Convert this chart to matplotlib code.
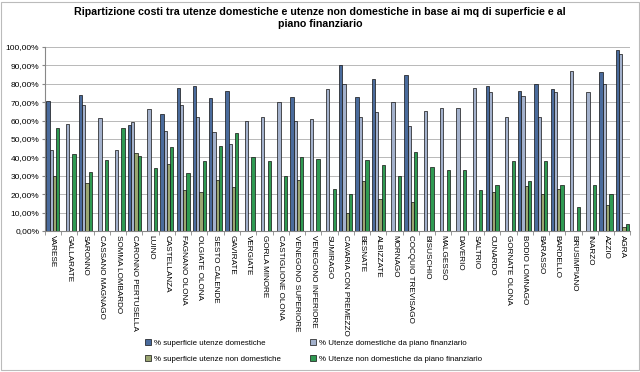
import numpy as np
import matplotlib
matplotlib.use("Agg")
import matplotlib.pyplot as plt
from matplotlib.ticker import FuncFormatter, FixedLocator

plt.rcParams['font.family'] = ['Liberation Sans', 'DejaVu Sans']

categories = ["VARESE", "GALLARATE", "SARONNO", "CASSANO MAGNAGO", "SOMMA LOMBARDO",
              "CARONNO PERTUSELLA", "LUINO", "CASTELLANZA", "FAGNANO OLONA", "OLGIATE OLONA",
              "SESTO CALENDE", "GAVIRATE", "VERGIATE", "GORLA MINORE", "CASTIGLIONE OLONA",
              "VENEGONO SUPERIORE", "VENEGONO INFERIORE", "SUMIRAGO", "CAVARIA CON PREMEZZO",
              "BESNATE", "ALBIZZATE", "MORNAGO", "COCQUIO TREVISAGO", "BISUSCHIO", "MALGESSO",
              "DAVERIO", "SALTRIO", "CUNARDO", "GORNATE OLONA", "BODIO LOMNAGO", "BARASSO",
              "BARDELLO", "BRUSIMPIANO", "INARZO", "AZZIO", "AGRA"]

sup_dom = [70.5, 0, 74, 0, 0, 57.5, 0, 63.5, 77.5, 79, 72.5, 76.2, 0, 0, 0, 72.6, 0, 0, 90,
           72.8, 82.8, 0, 84.6, 0, 0, 0, 0, 79, 0, 76, 80, 77, 0, 0, 86.2, 98.2]
pf_dom = [44, 58, 68.5, 61.5, 44, 59, 66, 54.5, 68.5, 62, 54, 47.2, 60, 62, 70, 60, 61, 77, 80,
          62, 64.4, 70, 57, 65.3, 67, 67, 77.5, 75.3, 62, 73.3, 62, 75.3, 87, 75.3, 80, 96.4]
sup_nondom = [30, 0, 26, 0, 0, 42.5, 0, 36.5, 22.5, 21, 27.5, 24, 0, 0, 0, 27.6, 0, 0, 10,
              27.4, 17.4, 0, 15.6, 0, 0, 0, 0, 21, 0, 24.3, 20, 23, 0, 0, 14, 2]
pf_nondom = [56, 42, 32, 38.5, 56, 41, 34, 45.5, 31.5, 38, 46, 53, 40, 38, 30, 40, 39, 23, 20,
             38.3, 35.7, 30, 43, 35, 33, 33, 22.3, 25, 38, 27, 38, 25, 13, 25, 20, 4]

labels = ["% superficie utenze domestiche", "% Utenze domestiche da piano finanziario",
          "% superficie utenze non domestiche", "% Utenze non domestiche da piano finanziario"]
colors = ["#4a6b9c", "#a3b1cc", "#9aa571", "#2f9a52"]

yticks = list(range(0, 101, 10))

fig = plt.figure(figsize=(6.4, 3.72), dpi=100)
fig.patch.set_facecolor("white")
ax = fig.add_axes([0.070, 0.379, 0.915, 0.495])

x = np.arange(len(categories))
w = 0.2
series = [sup_dom, pf_dom, sup_nondom, pf_nondom]
handles = []
for i, (vals, col, lab) in enumerate(zip(series, colors, labels)):
    v = np.array(vals, dtype=float)
    v[v == 0] = np.nan
    h = ax.bar(x + (i - 1.5) * w, v, width=w, color=col, edgecolor="#111111",
               linewidth=0.5, label=lab, zorder=3)
    handles.append(h)

ax.set_xlim(-0.5, len(categories) - 0.5)
ax.set_ylim(0, 100)
ax.set_yticks(yticks)
ax.yaxis.set_major_formatter(FuncFormatter(lambda v, p: f"{v:.2f}".replace(".", ",") + "%"))
ax.grid(axis="y", color="#b8b8b8", linewidth=0.7, zorder=0)
ax.set_axisbelow(True)
for s in ["top", "right"]:
    ax.spines[s].set_visible(False)
ax.spines["left"].set_color("#888888")
ax.spines["bottom"].set_color("#888888")
ax.tick_params(axis="y", labelsize=6, length=2, color="#888888", pad=2)
ax.set_xticks(x)
ax.set_xticklabels(categories, rotation=270, fontsize=5.9, ha="center", va="top")
ax.tick_params(axis="x", which="major", length=0, pad=3)
ax.xaxis.set_minor_locator(FixedLocator(np.arange(-0.5, len(categories), 1.0)))
ax.tick_params(axis="x", which="minor", length=3, color="#888888")

fig.suptitle("Ripartizione costi tra utenze domestiche e utenze non domestiche in base ai mq di superficie e al\npiano finanziario",
             fontsize=7.7, fontweight="bold", y=0.982, x=0.50, linespacing=1.25)

order = [0, 2, 1, 3]
fig.legend([handles[i] for i in order], [labels[i] for i in order], ncol=2,
           loc="center", bbox_to_anchor=(0.49, 0.057), frameon=False, fontsize=5.7,
           handlelength=0.8, handleheight=0.8, columnspacing=3.6, labelspacing=1.0,
           handletextpad=0.4)

fig.patches.append(plt.Rectangle((0.002, 0.005), 0.996, 0.99, transform=fig.transFigure,
                                 fill=False, edgecolor="#bbbbbb", linewidth=0.8))

fig.savefig("out.png", dpi=100)
